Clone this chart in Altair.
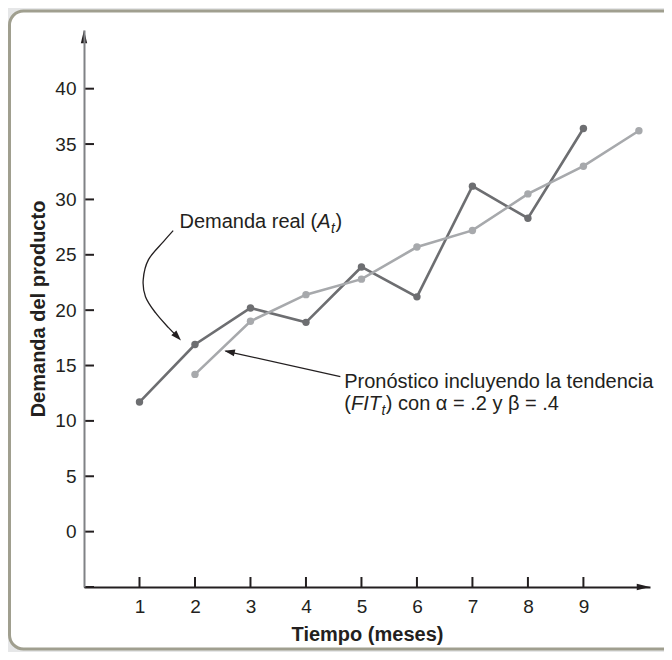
import altair as alt
import pandas as pd

# ---------------- data ----------------
months_actual = [1, 2, 3, 4, 5, 6, 7, 8, 9]
actual_demand = [11.7, 16.9, 20.2, 18.9, 23.9, 21.2, 31.2, 28.3, 36.4]
months_forecast = [2, 3, 4, 5, 6, 7, 8, 9, 10]
forecast_fit = [14.2, 19.0, 21.4, 22.8, 25.7, 27.2, 30.5, 33.0, 36.2]
series_names = ["Demanda real", "Pronóstico"]

x_tick_values = [1, 2, 3, 4, 5, 6, 7, 8, 9]
y_label_values = [0, 5, 10, 15, 20, 25, 30, 35, 40]
y_tick_values = [-5, 0, 5, 10, 15, 20, 25, 30, 35, 40]
x_title = "Tiempo (meses)"
y_title = "Demanda del producto"

# annotation anchors (data units)
curve_x = [1.607, 1.432, 1.162, 1.067, 1.108, 1.288, 1.523, 1.667]
curve_y = [27.18, 26.19, 24.56, 22.75, 21.22, 19.77, 18.42, 17.70]
curve_tip = (1.748, 17.25, 47)
straight_x = [4.62, 2.55]
straight_y = [14.0, 16.3]
straight_tip = (2.53, 16.34, 192.6)
label1_xy = (1.72, 27.45)
label2_xy = (4.69, 13.0)
label2b_y = 11.0

X_DOMAIN = [0, 10.2]
Y_DOMAIN = [-5, 45.3]

# ---------------- style ----------------
FONT = "Liberation Sans"
TEXT = "#231f20"
DARK = "#6d6e71"
LIGHT = "#a7a9ac"
W, H = 566, 557

xs = alt.Scale(domain=X_DOMAIN, nice=False, zero=False)
ys = alt.Scale(domain=Y_DOMAIN, nice=False, zero=False)
XAX = alt.Axis(values=x_tick_values, title=x_title, ticks=False, tickSize=0, grid=False,
               domainColor=TEXT, domainWidth=2, labelFont=FONT, labelFontSize=19,
               labelColor=TEXT, labelPadding=10, titleFont=FONT, titleFontSize=20,
               titleFontWeight="bold", titleColor=TEXT, titlePadding=8, zindex=1)
YAX = alt.Axis(values=y_label_values, title=y_title, ticks=False, tickSize=0, grid=False,
               domainColor="#808285", domainWidth=2, labelFont=FONT, labelFontSize=19,
               labelColor=TEXT, labelPadding=8, titleFont=FONT, titleFontSize=20,
               titleFontWeight="bold", titleColor=TEXT, titlePadding=6, zindex=1)


def X(f):
    return alt.X(f, type="quantitative", scale=xs, axis=XAX)


def Y(f):
    return alt.Y(f, type="quantitative", scale=ys, axis=YAX)


df = pd.DataFrame({
    "mes": months_actual + months_forecast,
    "valor": actual_demand + forecast_fit,
    "serie": [series_names[0]] * len(months_actual) + [series_names[1]] * len(months_forecast),
})

color = alt.Color("serie:N", scale=alt.Scale(domain=series_names, range=[DARK, LIGHT]), legend=None)

one = pd.DataFrame({"x": [0.0], "y": [0.0]})

panel = alt.Chart(one).mark_rect(fill="white", stroke="#a09f8f", strokeWidth=3,
                                 cornerRadius=14).encode(
    x=alt.value(-74.5), x2=alt.value(610), y=alt.value(-19), y2=alt.value(619))

lines = alt.Chart(df).mark_line(strokeWidth=2.6).encode(x=X("mes"), y=Y("valor"), color=color)
points = alt.Chart(df).mark_circle(size=55, opacity=1).encode(x=X("mes"), y=Y("valor"), color=color)

ytick_df = pd.DataFrame({"v": y_tick_values})
yticks = alt.Chart(ytick_df).mark_rule(color=TEXT, strokeWidth=2).encode(
    y=Y("v"), x=alt.value(0), x2=alt.value(10))
xtick_df = pd.DataFrame({"v": x_tick_values})
xticks = alt.Chart(xtick_df).mark_rule(color=TEXT, strokeWidth=2).encode(
    x=X("v"), y=alt.value(H), y2=alt.value(H - 10))

AXIS_HEAD = "M0,0L-1,-0.24L-1,0.24Z"
ANN_HEAD = "M0,0L-1,-0.33L-1,0.33Z"

axis_arrows = alt.Chart(pd.DataFrame({
    "x": [X_DOMAIN[0], X_DOMAIN[1]], "y": [Y_DOMAIN[1], Y_DOMAIN[0]], "a": [270, 0]
})).mark_point(shape=AXIS_HEAD, filled=True, size=700, opacity=1, color=TEXT).encode(
    x=X("x"), y=Y("y"), angle=alt.Angle("a:Q", scale=None))

curve = alt.Chart(pd.DataFrame({"x": curve_x, "y": curve_y, "i": list(range(len(curve_x)))})).mark_line(
    color=TEXT, strokeWidth=1.3, interpolate="cardinal").encode(
    x=X("x"), y=Y("y"), order="i:Q")
straight = alt.Chart(pd.DataFrame({"x": straight_x, "y": straight_y, "i": [0, 1]})).mark_line(
    color=TEXT, strokeWidth=1.3).encode(x=X("x"), y=Y("y"), order="i:Q")
ann_heads = alt.Chart(pd.DataFrame({
    "x": [curve_tip[0], straight_tip[0]], "y": [curve_tip[1], straight_tip[1]],
    "a": [curve_tip[2], straight_tip[2]]
})).mark_point(shape=ANN_HEAD, filled=True, size=440, opacity=1, color=TEXT).encode(
    x=X("x"), y=Y("y"), angle=alt.Angle("a:Q", scale=None))


def piece(xy, text, dx=0, dy=0, size=20, style="normal"):
    d = pd.DataFrame({"x": [xy[0]], "y": [xy[1]]})
    return alt.Chart(d).mark_text(text=text, align="left", baseline="alphabetic", font=FONT,
                                  fontSize=size, fontStyle=style, color=TEXT, dx=dx, dy=dy).encode(
        x=X("x"), y=Y("y"))


texts = [
    piece(label1_xy, "Demanda real ("),
    piece(label1_xy, "A", dx=137.8, style="italic"),
    piece(label1_xy, "t", dx=151.5, dy=5, size=14, style="italic"),
    piece(label1_xy, ")", dx=156.0),
    piece(label2_xy, "Pronóstico incluyendo la tendencia"),
    piece((label2_xy[0], label2b_y), "("),
    piece((label2_xy[0], label2b_y), "FIT", dx=6.7, style="italic"),
    piece((label2_xy[0], label2b_y), "t", dx=37.3, dy=5, size=14, style="italic"),
    piece((label2_xy[0], label2b_y), ") con α = .2 y β = .4", dx=41.6),
]

chart = alt.layer(panel, yticks, xticks, axis_arrows, lines, points, curve, straight, ann_heads,
                  *texts).properties(
    width=W, height=H,
    padding={"left": 76, "top": 22, "right": 14, "bottom": 65},
    autosize=alt.AutoSizeParams(type="none"),
).configure(background="#e6e7e8").configure_view(strokeWidth=0)

chart.save("out.html", embed_options={"renderer": "svg", "actions": False})
